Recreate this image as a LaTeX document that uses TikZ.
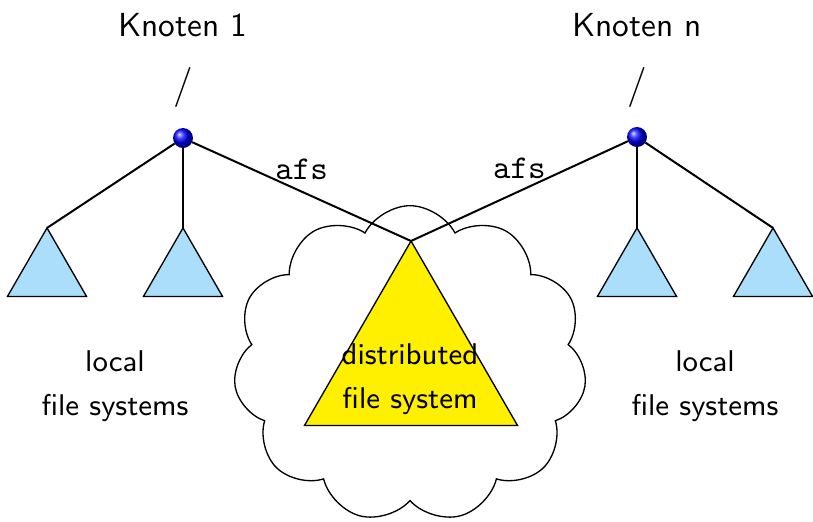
\documentclass[tikz,border=0pt]{standalone}
\usetikzlibrary{shapes.geometric,shapes.symbols}
\definecolor{lblue}{RGB}{170,222,250}
\definecolor{dyellow}{RGB}{255,240,0}
\begin{document}
\begin{tikzpicture}[x=0.3pt,y=-0.3pt,font=\sffamily,
  tri/.style={regular polygon,regular polygon sides=3,draw,line width=0.4pt,inner sep=0pt,outer sep=0pt},
  ltri/.style={tri,fill=lblue,minimum size=27.4pt},
  ball/.style={circle,shading=ball,ball color=blue,minimum size=6pt,inner sep=0pt,outer sep=0pt},
  lbl/.style={align=center,font=\sffamily\small},
  conn/.style={semithick}]
\useasboundingbox (0,0) rectangle (813,521);
\node[cloud,draw,fill=white,cloud puffs=11,cloud puff arc=125,minimum width=106pt,minimum height=95pt,inner sep=0pt] (cl) at (410,364) {};
\node[tri,fill=dyellow,minimum size=73.8pt] (dfs) at (411,364) {};
\node[lbl] (dfst) at (410,379) {distributed\\[2.4pt]file system};
\node[ltri] (t1) at (47,273.6) {};
\node[ltri] (t2) at (183,273.6) {};
\node[ltri] (t3) at (637,273.6) {};
\node[ltri] (t4) at (773,273.6) {};
\node[ball] (b1) at (183,138) {};
\node[ball] (bn) at (637,137) {};
\node (k1) at (183,25) {Knoten 1};
\node (kn) at (637,25) {Knoten n};
\node[font=\sffamily\large] (r1) at (183,87) {/};
\node[font=\sffamily\large] (rn) at (637,87) {/};
\node[lbl] (l1) at (115,386) {local\\[2.4pt]file systems};
\node[lbl] (l2) at (705,386) {local\\[2.4pt]file systems};
\draw[conn] (b1) -- (t1.corner 1);
\draw[conn] (b1) -- (t2.corner 1);
\draw[conn] (b1) -- node[above,font=\ttfamily,pos=0.5] (a1) {afs} (dfs.corner 1);
\draw[conn] (bn) -- (t3.corner 1);
\draw[conn] (bn) -- (t4.corner 1);
\draw[conn] (bn) -- node[above,font=\ttfamily,pos=0.5] (a2) {afs} (dfs.corner 1);
\end{tikzpicture}
\end{document}
